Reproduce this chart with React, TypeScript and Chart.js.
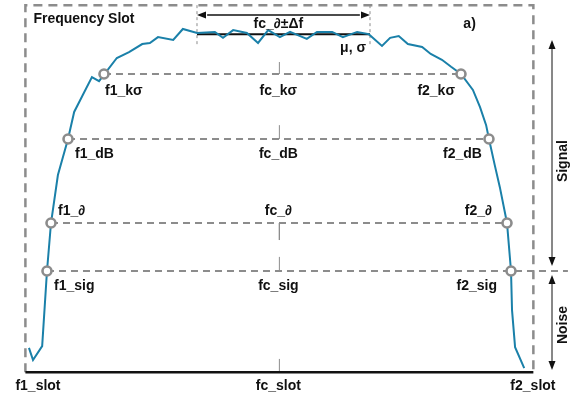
import { useEffect, useRef } from "react";
import { Chart, registerables } from "chart.js";

Chart.register(...registerables);

// ---- data (frequency in % of slot, power level in relative units) ----
const curveFreq = [0.7, 1.5, 3.3, 4.25, 5.04, 6.4, 8.39, 9.6, 11.3, 13.1, 14.5, 18.0, 20.4, 23.0, 24.5, 26.1, 29.1, 31.0, 33.8, 37.3, 38.9, 40.9, 43.6, 45.8, 47.8, 50.1, 52.1, 55.4, 57.4, 60.4, 62.5, 65.3, 67.6, 70.2, 71.8, 73.5, 75.3, 78.1, 79.8, 82.0, 83.8, 85.75, 88.1, 89.5, 90.7, 91.26, 92.4, 93.4, 94.81, 95.6, 95.8, 96.4, 98.2];
const curvePower = [6.6, 3.3, 7.1, 27.56, 40.64, 53.7, 63.53, 70.9, 75.5, 80.4, 79.3, 85.6, 87.2, 89.4, 89.7, 91.3, 90.5, 93.5, 92.4, 92.7, 91.1, 93.2, 92.4, 89.7, 93.2, 91.3, 92.7, 90.8, 92.7, 92.7, 91.3, 92.7, 92.1, 88.9, 91.1, 91.6, 89.4, 88.6, 86.7, 85.1, 83.2, 81.24, 76.9, 72.2, 67.3, 63.53, 56.4, 50.4, 40.64, 27.56, 16.9, 6.8, 1.1];

const levelNames = ["kσ", "dB", "∂", "sig"];
const levelValues = [81.24, 63.53, 40.64, 27.56];
const leftEdges = [15.47, 8.39, 5.04, 4.25];
const rightEdges = [85.75, 91.26, 94.81, 95.6];
const centerTickEnds = [84.5, 67.3, 36.0, 31.4];

const slotStart = 0;
const slotEnd = 100;
const slotCenter = 50;
const slotTop = 100;
const slotFloor = 0;
const slotTickEnd = 3.6;

const deltaStart = 33.78;
const deltaEnd = 67.84;
const deltaArrowLevel = 97.3;
const deltaBoxBottom = 88.6;
const meanLevel = 92.1;

const sideArrowFreq = 103.67;
const signalRange = [28.9, 90.5];
const noiseRange = [0.6, 26.5];
const sigLineEnd = 106.8;

const BLUE = "#1a80a9";
const GRAY = "#8c8c8c";
const INK = "#111111";
const FONT = "bold 14px 'Liberation Sans', Arial, sans-serif";

const seg = (pts: { x: number; y: number }[], color: string, width: number, dash: number[], order: number) => ({
  data: pts,
  showLine: true,
  borderColor: color,
  backgroundColor: color,
  borderWidth: width,
  borderDash: dash,
  pointRadius: 0,
  pointHoverRadius: 0,
  fill: false,
  tension: 0,
  order,
});

const annotationPlugin = {
  id: "slotAnnotations",
  afterDatasetsDraw(chart: any) {
    const { ctx } = chart;
    const X = (v: number) => chart.scales.x.getPixelForValue(v);
    const Y = (v: number) => chart.scales.y.getPixelForValue(v);
    ctx.save();

    const head = (x: number, y: number, ang: number, len: number, half: number, color: string) => {
      ctx.save();
      ctx.translate(x, y);
      ctx.rotate(ang);
      ctx.beginPath();
      ctx.moveTo(0, 0);
      ctx.lineTo(-len, -half);
      ctx.lineTo(-len, half);
      ctx.closePath();
      ctx.fillStyle = color;
      ctx.fill();
      ctx.restore();
    };
    // delta-f arrow heads
    head(X(deltaStart), Y(deltaArrowLevel), Math.PI, 9, 3.5, INK);
    head(X(deltaEnd), Y(deltaArrowLevel), 0, 9, 3.5, INK);
    // signal / noise arrow heads
    head(X(sideArrowFreq), Y(signalRange[1]), -Math.PI / 2, 9, 3.5, INK);
    head(X(sideArrowFreq), Y(signalRange[0]), Math.PI / 2, 9, 3.5, INK);
    head(X(sideArrowFreq), Y(noiseRange[1]), -Math.PI / 2, 9, 3.5, INK);
    head(X(sideArrowFreq), Y(noiseRange[0]), Math.PI / 2, 9, 3.5, INK);

    ctx.font = FONT;
    ctx.fillStyle = INK;
    ctx.textBaseline = "alphabetic";

    const text = (s: string, x: number, y: number, align: CanvasTextAlign) => {
      ctx.textAlign = align;
      ctx.fillText(s, x, y);
    };

    const labelDy = [21, 19, -8, 19];
    const leftDx = [1, 7, 7, 7];
    const rightDx = [-6, -7, -15, -14];
    levelNames.forEach((n, i) => {
      const yb = Y(levelValues[i]) + labelDy[i];
      text("f1_" + n, X(leftEdges[i]) + leftDx[i], yb, "left");
      text("f2_" + n, X(rightEdges[i]) + rightDx[i], yb, "right");
      text("fc_" + n, X(slotCenter) - 1, yb, "center");
    });

    const slotY = Y(slotFloor) + 18;
    text("f1_slot", X(slotStart) - 10, slotY, "left");
    text("fc_slot", X(slotCenter) - 1, slotY, "center");
    text("f2_slot", X(slotEnd) - 23, slotY, "left");

    text("Frequency Slot", X(slotStart) + 8, Y(slotTop) + 18, "left");
    text("a)", X(slotEnd) - 70, Y(slotTop) + 23, "left");
    text("fc_∂±Δf", X(slotCenter) - 1, Y(deltaArrowLevel) + 13, "center");
    text("μ, σ", X(deltaEnd) - 4, Y(meanLevel) + 18, "right");

    const vText = (s: string, x: number, y: number) => {
      ctx.save();
      ctx.translate(x, y);
      ctx.rotate(-Math.PI / 2);
      ctx.textAlign = "center";
      ctx.textBaseline = "middle";
      ctx.fillText(s, 0, 0);
      ctx.restore();
    };
    const sx = X(sideArrowFreq) + 11;
    vText("Signal", sx, Y(57.5));
    vText("Noise", sx, Y(12.85));

    ctx.restore();
  },
};

export default function App() {
  const ref = useRef<HTMLCanvasElement>(null);

  useEffect(() => {
    const canvas = ref.current;
    if (!canvas) return;

    const curve = curveFreq.map((f, i) => ({ x: f, y: curvePower[i] }));
    const circles: { x: number; y: number }[] = [];
    levelValues.forEach((lv, i) => {
      circles.push({ x: leftEdges[i], y: lv });
      circles.push({ x: rightEdges[i], y: lv });
    });

    const datasets: any[] = [];
    datasets.push({
      data: circles,
      showLine: false,
      pointRadius: 4.5,
      pointHoverRadius: 4.5,
      pointBorderWidth: 2.6,
      pointBorderColor: GRAY,
      pointBackgroundColor: "#ffffff",
      order: 0,
    });
    datasets.push(seg(curve, BLUE, 2, [], 1));

    // slot box
    datasets.push(
      seg(
        [
          { x: slotStart, y: slotFloor },
          { x: slotStart, y: slotTop },
          { x: slotEnd, y: slotTop },
          { x: slotEnd, y: slotFloor },
        ],
        GRAY,
        2.5,
        [9, 6],
        3
      )
    );
    // floor
    datasets.push(seg([{ x: slotStart, y: slotFloor }, { x: slotEnd, y: slotFloor }], INK, 2.5, [], 2));

    // level lines
    levelValues.forEach((lv, i) => {
      const end = i === levelValues.length - 1 ? sigLineEnd : rightEdges[i];
      datasets.push(seg([{ x: leftEdges[i], y: lv }, { x: end, y: lv }], GRAY, 2, [7, 5], 3));
      datasets.push(seg([{ x: slotCenter, y: lv }, { x: slotCenter, y: centerTickEnds[i] }], GRAY, 1, [], 3));
    });
    datasets.push(seg([{ x: slotCenter, y: slotFloor }, { x: slotCenter, y: slotTickEnd }], GRAY, 1, [], 3));

    // delta-f window
    datasets.push(seg([{ x: deltaStart, y: slotTop }, { x: deltaStart, y: deltaBoxBottom }], GRAY, 1, [3, 3], 3));
    datasets.push(seg([{ x: deltaEnd, y: slotTop }, { x: deltaEnd, y: deltaBoxBottom }], GRAY, 1, [3, 3], 3));
    datasets.push(seg([{ x: deltaStart + 2, y: deltaArrowLevel }, { x: deltaEnd - 2, y: deltaArrowLevel }], INK, 1.5, [], 2));
    datasets.push(seg([{ x: deltaStart, y: meanLevel }, { x: deltaEnd, y: meanLevel }], INK, 2, [], 2));

    // signal / noise arrows
    datasets.push(seg([{ x: sideArrowFreq, y: signalRange[0] + 1 }, { x: sideArrowFreq, y: signalRange[1] - 1 }], INK, 1, [], 2));
    datasets.push(seg([{ x: sideArrowFreq, y: noiseRange[0] + 1 }, { x: sideArrowFreq, y: noiseRange[1] - 1 }], INK, 1, [], 2));

    const chart = new Chart(canvas, {
      type: "scatter",
      data: { datasets },
      options: {
        animation: false,
        responsive: false,
        events: [],
        layout: { padding: 0, autoPadding: false },
        plugins: { legend: { display: false }, tooltip: { enabled: false } },
        scales: {
          x: { type: "linear", display: false, min: -5, max: 108 },
          y: { type: "linear", display: false, min: -6.5, max: 101.4 },
        },
      },
      plugins: [annotationPlugin],
    });
    return () => chart.destroy();
  }, []);

  return (
    <div style={{ position: "fixed", left: 0, top: 0, width: 574, height: 396, background: "#ffffff" }}>
      <canvas ref={ref} width={574} height={396} style={{ display: "block" }} />
    </div>
  );
}
